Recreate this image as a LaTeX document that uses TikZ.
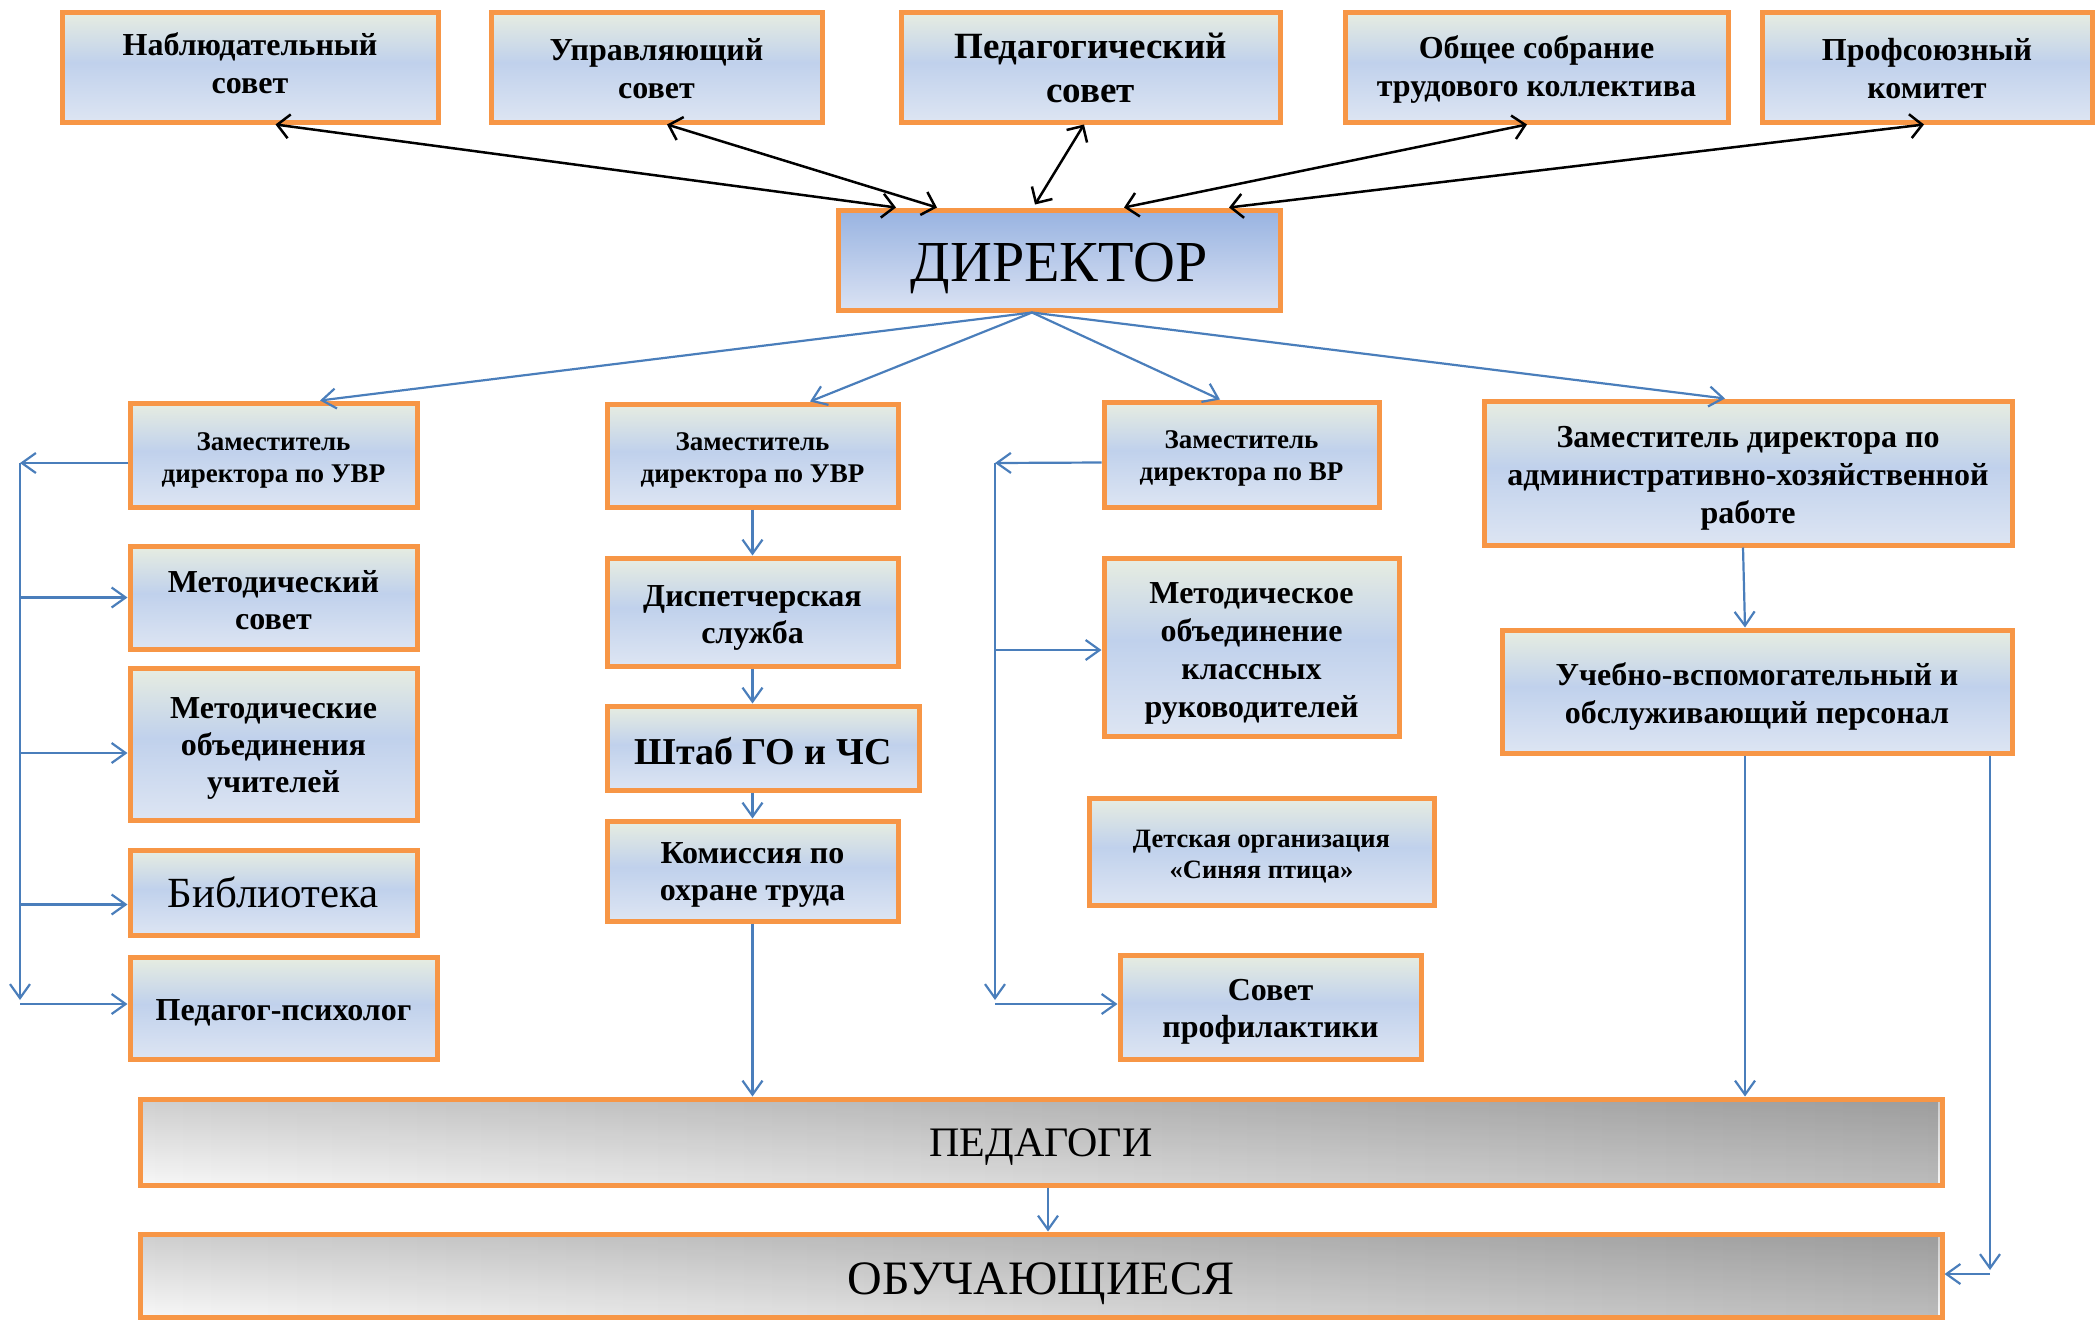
\documentclass[tikz,border=0pt]{standalone}
\usepackage{fontspec}
\setmainfont{Liberation Serif}
\usetikzlibrary{arrows.meta,calc,fadings}
\definecolor{orB}{HTML}{F79646}
\definecolor{bxtop}{HTML}{E7EDE1}
\definecolor{bxmidA}{HTML}{CDDAEF}
\definecolor{bxmid}{HTML}{C0D1EC}
\definecolor{bxbot}{HTML}{DDE5F3}
\definecolor{dtop}{HTML}{98B3E1}
\definecolor{dbot}{HTML}{DAE2F3}
\definecolor{lnblue}{HTML}{4A7EBB}
\definecolor{gtop}{HTML}{CECECE}
\definecolor{gbot}{HTML}{F7F7F7}
\pgfdeclareverticalshading{boxgrad}{100bp}{color(0bp)=(bxbot); color(25bp)=(bxbot); color(40bp)=(bxmidA); color(52bp)=(bxmid); color(75bp)=(bxtop); color(100bp)=(bxtop)}
\pgfdeclareverticalshading{dirgrad}{100bp}{color(0bp)=(dbot); color(25bp)=(dbot); color(75bp)=(dtop); color(100bp)=(dtop)}
\tikzset{
  box/.style={draw=orB, line width=5pt, shading=boxgrad, inner sep=0pt},
  dirbox/.style={draw=orB, line width=5pt, shading=dirgrad, inner sep=0pt},
  gbox/.style={draw=orB, line width=5pt, top color=gtop, bottom color=gbot, inner sep=0pt,
    path picture={\fill[black, fill opacity=0.24, path fading=west]
      (path picture bounding box.south west) rectangle (path picture bounding box.north east);}},
  fA/.style={font=\fontsize{32}{38}\selectfont\bfseries},
  fB/.style={font=\fontsize{37}{44}\selectfont\bfseries},
  fC/.style={font=\fontsize{27}{32}\selectfont\bfseries},
  fD/.style={font=\fontsize{32}{37}\selectfont\bfseries},
  fE/.style={font=\fontsize{26.5}{31}\selectfont\bfseries},
  fS/.style={font=\fontsize{38}{44}\selectfont\bfseries},
  fDir/.style={font=\fontsize{58}{64}\selectfont},
  fBib/.style={font=\fontsize{43}{48}\selectfont},
  fPed/.style={font=\fontsize{42}{48}\selectfont},
  fObu/.style={font=\fontsize{48}{54}\selectfont},
  dbl/.style={draw=black, line width=2.5pt, {Straight Barb[length=12pt,width=24pt]}-{Straight Barb[length=12pt,width=24pt]}},
  barr/.style={draw=lnblue, line width=2.2pt, -{Straight Barb[length=14pt,width=20pt]}},
}
% #1 box style, #2 name, #3 cx, #4 cy, #5 w, #6 h, #7 text style, #8 text yshift, #9 text
\newcommand{\bx}[9]{%
  \node[#1,minimum width=#5pt,minimum height=#6pt] (#2) at (#3,#4) {};
  \node[#7,align=center,inner sep=0pt,text=black] (#2t) at ([yshift=#8pt]#2.center) {#9};}
\begin{document}
\begin{tikzpicture}[x=1pt,y=-1pt]
\useasboundingbox (0,0) rectangle (2095,1320);
% top row
\bx{box}{nab}{250}{67}{376}{110}{fA}{4}{Наблюдательный\\совет}
\bx{box}{upr}{656.5}{67}{331}{110}{fA}{-2}{Управляющий\\совет}
\bx{box}{ped}{1090.5}{67}{379}{110}{fB}{-1}{Педагогический\\совет}
\bx{box}{obs}{1536.5}{67}{383}{110}{fA}{-2}{Общее собрание\\трудового коллектива}
\bx{box}{prof}{1927}{67}{330}{110}{fA}{-2}{Профсоюзный\\комитет}
% director
\bx{dirbox}{dir}{1059}{260}{442}{100}{fDir}{-8}{ДИРЕКТОР}
% deputies
\bx{box}{zam1}{273.5}{455}{287}{104}{fC}{-5}{Заместитель\\директора по УВР}
\bx{box}{zam2}{752.5}{455.5}{291}{103}{fC}{-5}{Заместитель\\директора по УВР}
\bx{box}{zamvr}{1241.5}{454.5}{275}{105}{fC}{-4}{Заместитель\\директора по ВР}
\bx{box}{zamahr}{1748}{473}{528}{144}{fA}{-5}{Заместитель директора по\\административно-хозяйственной\\работе}
% left column
\bx{box}{metsov}{273.5}{597.5}{287}{103}{fD}{-3}{Методический\\совет}
\bx{box}{metob}{273.5}{744}{287}{152}{fD}{-4}{Методические\\объединения\\учителей}
\bx{box}{bib}{273.5}{892.5}{287}{85}{fBib}{0}{Библиотека}
\bx{box}{psy}{283.5}{1008}{307}{102}{fD}{-5}{Педагог-психолог}
% middle column
\bx{box}{disp}{752.5}{612}{291}{108}{fD}{-6}{Диспетчерская\\служба}
\bx{box}{shtab}{763}{748}{312}{84}{fS}{-3}{Штаб ГО и ЧС}
\bx{box}{kom}{752.5}{871}{291}{100}{fD}{-4}{Комиссия по\\охране труда}
% right-middle column
\bx{box}{mokr}{1251.5}{647}{295}{178}{fA}{-6}{Методическое\\объединение\\классных\\руководителей}
\bx{box}{det}{1261.5}{851.5}{345}{107}{fE}{-5}{Детская организация\\«Синяя птица»}
\bx{box}{sovp}{1270.5}{1007}{301}{104}{fD}{-5}{Совет\\профилактики}
% right column
\bx{box}{uvp}{1757}{691.5}{510}{123}{fA}{-5}{Учебно-вспомогательный и\\обслуживающий персонал}
% bottom bars
\bx{gbox}{ped2}{1041}{1142}{1802}{86}{fPed}{-5}{ПЕДАГОГИ}
\bx{gbox}{obu}{1041}{1275.5}{1802}{83}{fObu}{-8}{ОБУЧАЮЩИЕСЯ}

% black double arrows
\draw[dbl] ([xshift=216pt]nab.south west) -- ([xshift=60.5pt]dir.north west);
\draw[dbl] ([xshift=178.5pt]upr.south west) -- ([xshift=101.5pt]dir.north west);
\draw[dbl] ([xshift=185.5pt]ped.south west) -- ([xshift=199.5pt,yshift=3pt]dir.north west);
\draw[dbl] ([xshift=184.5pt]obs.south west) -- ([xshift=288.5pt]dir.north west);
\draw[dbl] ([xshift=164.5pt]prof.south west) -- ([xshift=393.5pt]dir.north west);

% blue arrows from director
\coordinate (dsrc) at ([xshift=196.5pt]dir.south west);
\draw[barr] (dsrc) -- ([xshift=192.5pt]zam1.north west);
\draw[barr] (dsrc) -- ([xshift=205.5pt]zam2.north west);
\draw[barr] (dsrc) -- ([xshift=118.5pt]zamvr.north west);
\draw[barr] (dsrc) -- ([xshift=243.5pt]zamahr.north west);

% left bus
\coordinate (zl) at ([yshift=-8pt]zam1.west);
\coordinate (busLt) at (20,463);
\coordinate (busLb) at (20,1000);
\draw[barr] (zl) -- (busLt);
\draw[barr] (busLt) -- (busLb);
\coordinate (tms) at (metsov.west);
\coordinate (tmo) at ([yshift=-9pt]metob.west);
\coordinate (tbib) at ([yshift=-12pt]bib.west);
\coordinate (tpsy) at ([yshift=4pt]psy.west);
\draw[barr] (busLt |- tms) -- (tms);
\draw[barr] (busLt |- tmo) -- (tmo);
\draw[barr] (busLt |- tbib) -- (tbib);
\draw[barr] (busLt |- tpsy) -- (tpsy);

% middle chain
\draw[barr] (zam2.south) -- (disp.north);
\draw[barr] (disp.south) -- (disp.south |- shtab.north);
\draw[barr] (kom.north |- shtab.south) -- (kom.north);
\draw[barr] (kom.south) -- (kom.south |- ped2.north);

% right-middle bus
\coordinate (zr) at ([yshift=-8pt]zamvr.west);
\coordinate (busRt) at (995,463);
\coordinate (busRb) at (995,1000);
\draw[barr] (zr) -- (busRt);
\draw[barr] (busRt) -- (busRb);
\coordinate (tmk) at ([yshift=-3pt]mokr.west);
\coordinate (tsp) at ([yshift=3pt]sovp.west);
\draw[barr] (busRt |- tmk) -- (tmk);
\draw[barr] (busRt |- tsp) -- (tsp);

% right column
\draw[barr] ([xshift=-5pt]zamahr.south) -- ([xshift=-12pt]uvp.north);
\coordinate (ua) at ([xshift=-12pt]uvp.south);
\draw[barr] (ua) -- (ua |- ped2.north);
\coordinate (ub) at ([xshift=233pt]uvp.south);
\coordinate (ubend) at (1990,1270);
\draw[barr] (ub) -- (ubend);
\coordinate (uc) at (1990,1274);
\draw[barr] (uc) -- (uc -| obu.east);

% pedagogues to students
\draw[barr] ([xshift=7pt]ped2.south) -- ([xshift=7pt]obu.north);
\end{tikzpicture}
\end{document}
